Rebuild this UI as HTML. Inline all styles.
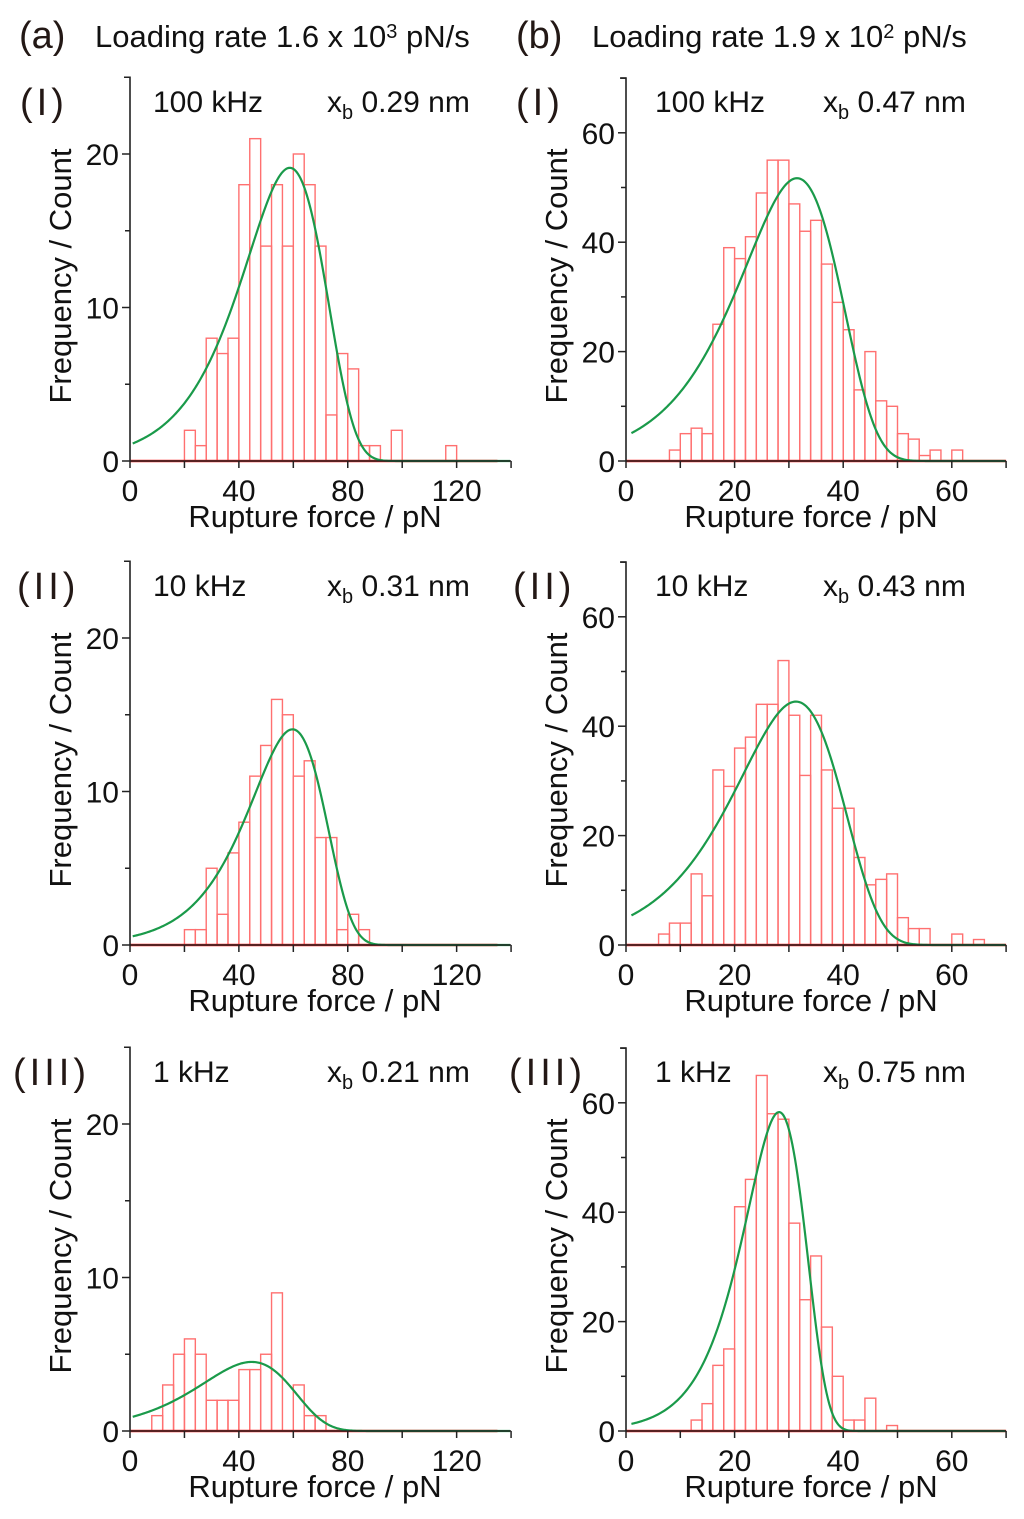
<!DOCTYPE html>
<html><head><meta charset="utf-8">
<style>
html,body{margin:0;padding:0;background:#fff;}
svg{display:block;font-family:"Liberation Sans",Arial,sans-serif;}
</style></head>
<body>
<svg id="fig" width="1024" height="1519" viewBox="0 0 1024 1519" xmlns="http://www.w3.org/2000/svg">
<text x="19" y="48" font-size="38" fill="#231815">(a)</text>
<text x="95" y="47" font-size="31" fill="#111">Loading rate 1.6 x 10<tspan dy="-9" font-size="20">3</tspan><tspan dy="9"> pN/s</tspan></text>
<text x="516" y="48" font-size="38" fill="#231815">(b)</text>
<text x="592" y="47" font-size="31" fill="#111">Loading rate 1.9 x 10<tspan dy="-9" font-size="20">2</tspan><tspan dy="9"> pN/s</tspan></text>
</svg>
<script>
// ---- data ----
const binsA1 = [2,1,8,7,8,18,21,14,18,14,20,18,14,3,7,6,1,1,0,2,0,0,0,0,1];
const binsA2 = [1,1,5,2,6,8,11,13,16,15,11,12,7,7,1,2,1];
const binsA3 = [1,3,5,6,5,2,2,2,4,4,5,9,0,3,1,1];
const binsB1 = [2,5,6,5,25,39,37,41,49,55,55,47,42,44,36,29,24,13,20,11,10,5,4,1,2,0,2];
const binsB2 = [2,4,4,13,9,32,29,36,38,44,44,52,42,31,42,32,25,25,16,11,12,13,5,3,3,0,0,2,0,1];
const binsB3 = [2,5,12,15,41,46,65,58,57,38,24,32,19,10,2,2,6,0,1];
const binStarts = [20,20,8,8,6,12];
const binWidths = [4,4,4,2,2,2];
const fitPeaks = [58.7,59.7,44.7,31.5,31.3,28.2];
const fitHeights = [19.1,14.05,4.5,51.7,44.5,58.3];
const fitWidths = [15.2,14.0,17.5,9.3,9.9,5.67];
const freqLabels = ["100 kHz","10 kHz","1 kHz","100 kHz","10 kHz","1 kHz"];
const xbValues = ["0.29","0.31","0.21","0.47","0.43","0.75"];
const rowLabels = ["(I)","(II)","(III)"];
const leftXTicks = [0,40,80,120];
const rightXTicks = [0,20,40,60];
const leftYTicks = [0,10,20];
const rightYTicks = [0,20,40,60];

const NS="http://www.w3.org/2000/svg";
const svg=document.getElementById('fig');
function mk(tag,attrs,parent){const e=document.createElementNS(NS,tag);for(const k in attrs)e.setAttribute(k,attrs[k]);(parent||svg).appendChild(e);return e;}

const allBins=[binsA1,binsA2,binsA3,binsB1,binsB2,binsB3];
const zeroYs=[461,945,1431];

for(let p=0;p<6;p++){
  const col=p<3?0:1, row=p%3;
  const x0=col?626:130;
  const xmax=col?70:140;
  const pxPerX=col?5.43:2.722;
  const ymax=col?70:25;
  const pxPerY=col?5.47:15.35;
  const y0=zeroYs[row];
  const sx=v=>x0+v*pxPerX;
  const sy=v=>y0-v*pxPerY;
  const g=mk('g',{});
  
  
  const bins=allBins[p];
  for(let i=0;i<bins.length;i++){
    if(bins[i]<=0)continue;
    const a=binStarts[p]+i*binWidths[p];
    const r=mk('rect',{x:sx(a),y:sy(bins[i]),width:sx(a+binWidths[p])-sx(a),height:sy(0)-sy(bins[i]),fill:'none',stroke:'#ff7070','stroke-width':1.4},g);
    
    
  }
  const base=mk('line',{x1:sx(0),y1:y0,x2:sx(col?70:135),y2:y0,stroke:'#ff2020','stroke-width':2.5},g);
  
  
  let d='';
  for(let f=1;f<=xmax;f+=xmax/300){
    const z=(f-fitPeaks[p])/fitWidths[p];
    const v=fitHeights[p]*Math.exp(z+1-Math.exp(z));
    d+=(d?'L':'M')+sx(f).toFixed(2)+' '+sy(v).toFixed(2);
  }
  const c=mk('path',{d:d,fill:'none',stroke:'#1a9a4a','stroke-width':2.2},g);
  
  
  const ya=mk('path',{d:`M${x0-6} ${sy(ymax)}H${x0}V${y0}`,fill:'none',stroke:'#222','stroke-width':1.6},g);
  
  
  const xa=mk('line',{x1:x0,y1:y0,x2:sx(xmax),y2:y0,stroke:'#222','stroke-width':1.6},g);
  
  
  const ystep=col?10:5;
  for(let v=0;v<=ymax;v+=ystep){
    const major=(v%(ystep*2)===0);
    mk('line',{x1:x0-(major?8:5),y1:sy(v),x2:x0,y2:sy(v),stroke:'#222','stroke-width':1.5},g);
  }
  const xstep=col?10:20;
  for(let v=0;v<=xmax;v+=xstep){
    mk('line',{x1:sx(v),y1:y0,x2:sx(v),y2:y0+7,stroke:'#222','stroke-width':1.5},g);
  }
  const yt=col?rightYTicks:leftYTicks;
  yt.forEach(v=>{const t=mk('text',{x:x0-11,y:sy(v)+11,'font-size':30,'text-anchor':'end',fill:'#111'},g);t.textContent=v;
    
    });
  const xt=col?rightXTicks:leftXTicks;
  xt.forEach(v=>{const t=mk('text',{x:sx(v),y:y0+40,'font-size':30,'text-anchor':'middle',fill:'#111'},g);t.textContent=v;
    
    });
  const xl=mk('text',{x:x0+185,y:y0+66,'font-size':31,'text-anchor':'middle',fill:'#111'},g);
  xl.textContent='Rupture force / pN';
  
  
  const cy=y0-185, cx=x0-70;
  const yl=mk('text',{x:cx,y:cy,'font-size':31,'text-anchor':'middle',fill:'#111',transform:`rotate(-90 ${cx} ${cy}) translate(0 11)`},g);
  yl.textContent='Frequency / Count';
  
  
  const rl=mk('text',{x:x0-110+(row===2?-7:(row===1?-3:0)),y:y0-346,'font-size':38,'letter-spacing':4,fill:'#231815'},g);
  rl.textContent=rowLabels[row];
  
  
  const fl=mk('text',{x:x0+23+(col?6:0),y:y0-349,'font-size':30,fill:'#111'},g);
  fl.textContent=freqLabels[p];
  
  
  const xb=mk('text',{x:x0+197,y:y0-349,'font-size':30,fill:'#111'},g);
  xb.innerHTML='x<tspan dy="7" font-size="20">b</tspan><tspan dy="-7"> '+xbValues[p]+' nm</tspan>';
  
  
}
</script>
</body></html>
